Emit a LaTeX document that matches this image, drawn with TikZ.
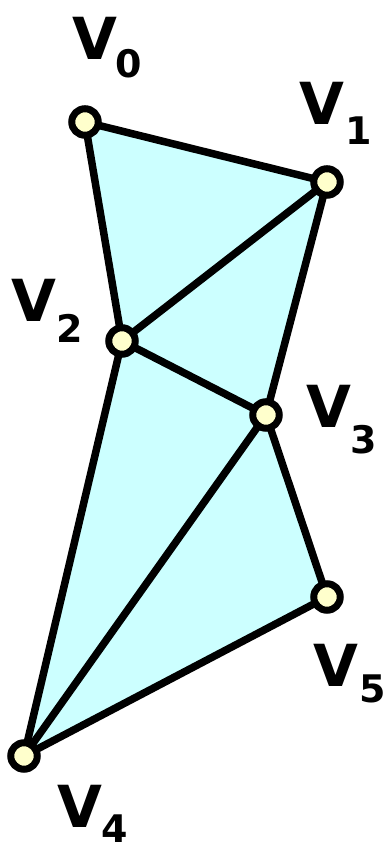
\documentclass[tikz,border=0pt]{standalone}
\usepackage{fontspec}
\setmainfont{DejaVu Sans}
\definecolor{facecol}{HTML}{CCFFFF}
\definecolor{vertcol}{HTML}{FFFFCC}
\begin{document}
\begin{tikzpicture}[x=1pt,y=1pt,
  vert/.style={circle,draw=black,fill=vertcol,line width=7pt,minimum size=26.5pt,inner sep=0pt},
  edge/.style={line width=7.5pt,line cap=round},
  bigv/.style={anchor=base west,inner sep=0pt,outer sep=0pt,font=\bfseries\fontsize{58}{58}\selectfont},
  subv/.style={anchor=base west,inner sep=0pt,outer sep=0pt,font=\bfseries\fontsize{38}{38}\selectfont}]
\useasboundingbox (0,0) rectangle (384,850);
\coordinate (p0) at (85,728);
\coordinate (p1) at (327,668);
\coordinate (p2) at (122,509);
\coordinate (p3) at (266,435);
\coordinate (p4) at (24,94);
\coordinate (p5) at (327,253);
\fill[facecol] (p0) -- (p1) -- (p3) -- (p5) -- (p4) -- (p2) -- cycle;
\draw[edge] (p0) -- (p1);
\draw[edge] (p0) -- (p2);
\draw[edge] (p1) -- (p2);
\draw[edge] (p1) -- (p3);
\draw[edge] (p2) -- (p3);
\draw[edge] (p2) -- (p4);
\draw[edge] (p3) -- (p4);
\draw[edge] (p3) -- (p5);
\draw[edge] (p4) -- (p5);
\node[vert] (v0) at (p0) {};
\node[vert] (v1) at (p1) {};
\node[vert] (v2) at (p2) {};
\node[vert] (v3) at (p3) {};
\node[vert] (v4) at (p4) {};
\node[vert] (v5) at (p5) {};
\node[bigv] (l0) at (72,790) {V};
\node[subv] (s0) at (115,772) {0};
\node[bigv] (l1) at (299,725) {V};
\node[subv] (s1) at (345,705) {1};
\node[bigv] (l2) at (12,528) {V};
\node[subv] (s2) at (56,507) {2};
\node[bigv] (l3) at (306,422) {V};
\node[subv] (s3) at (350,396) {3};
\node[bigv] (l5) at (313,163) {V};
\node[subv] (s5) at (359,147) {5};
\node[bigv] (l4) at (57,22) {V};
\node[subv] (s4) at (101,7) {4};
\end{tikzpicture}
\end{document}
